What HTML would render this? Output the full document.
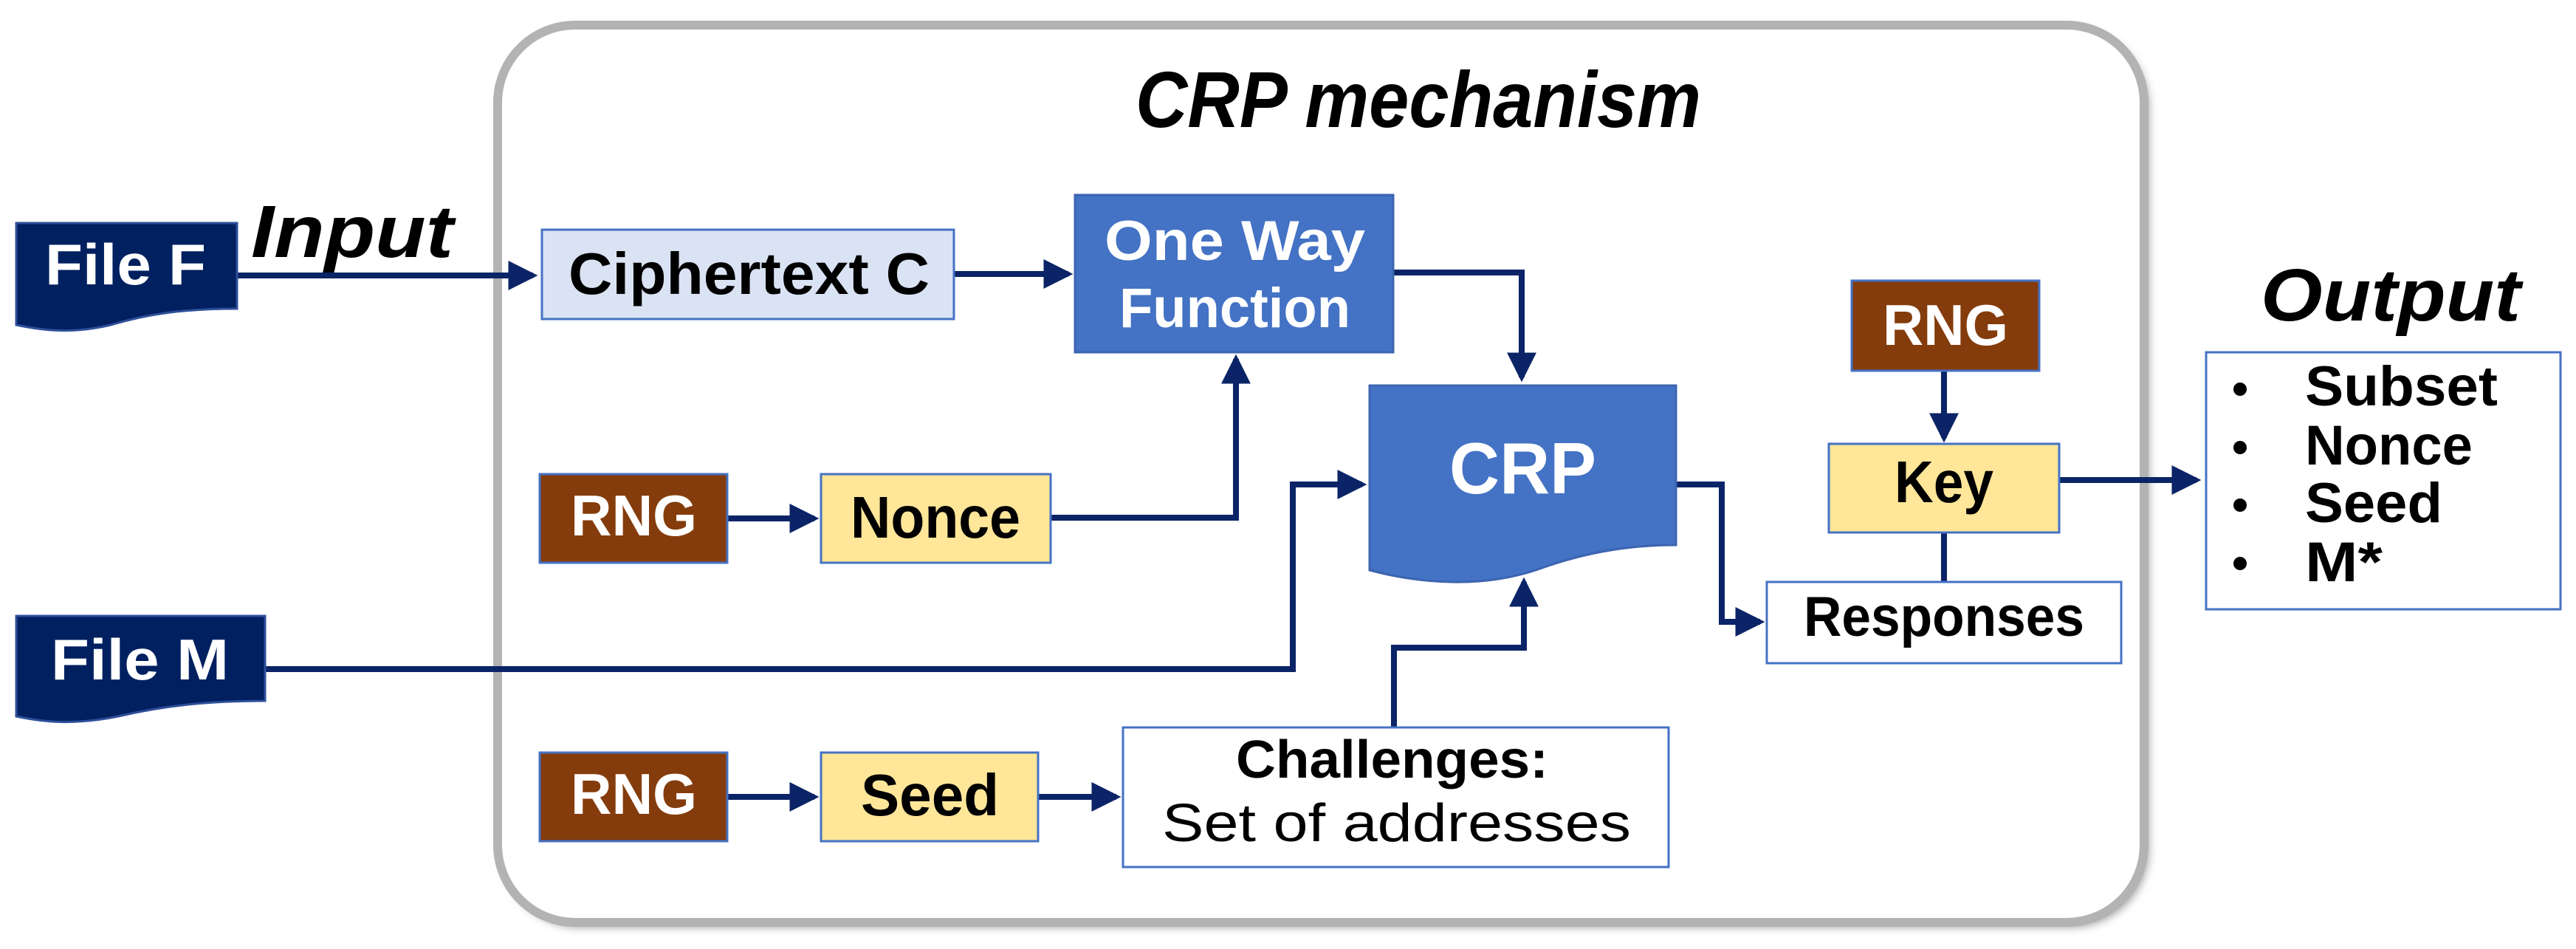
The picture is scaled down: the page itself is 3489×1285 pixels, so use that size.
<!DOCTYPE html>
<html><head><meta charset="utf-8"><style>
html,body{margin:0;padding:0;background:#fff;}
svg{display:block;}
text{font-family:"Liberation Sans",sans-serif;font-weight:bold;}
</style></head><body>
<svg width="3489" height="1285" viewBox="0 0 3489 1285" xmlns="http://www.w3.org/2000/svg">
<defs>
<filter id="sh" x="-5%" y="-5%" width="110%" height="110%"><feGaussianBlur stdDeviation="6"/></filter>
<marker id="ar" markerWidth="5" markerHeight="5" refX="4.2" refY="2.5" orient="auto" markerUnits="strokeWidth">
<path d="M0,0 L5,2.5 L0,5 z" fill="#0b2467"/></marker>
</defs>
<!-- container -->
<rect x="680" y="40" width="2230" height="1215" rx="105" fill="#9a9a9a" filter="url(#sh)"/>
<rect x="674" y="34" width="2230" height="1215" rx="105" fill="#fff" stroke="#b3b3b3" stroke-width="12"/>
<text x="1538" y="172" font-size="108" font-style="italic" textLength="766" lengthAdjust="spacingAndGlyphs" fill="#000">CRP mechanism</text>

<!-- connectors -->
<g fill="none" stroke="#0b2467" stroke-width="8">
<path d="M321 373 H722" marker-end="url(#ar)"/>
<path d="M1292 371 H1447" marker-end="url(#ar)"/>
<path d="M1887 369 H2061 V511" marker-end="url(#ar)"/>
<path d="M1423 701 H1674 V486" marker-end="url(#ar)"/>
<path d="M985 702 H1103" marker-end="url(#ar)"/>
<path d="M359 906 H1751 V656 H1845" marker-end="url(#ar)"/>
<path d="M985 1079 H1103" marker-end="url(#ar)"/>
<path d="M1406 1079 H1512" marker-end="url(#ar)"/>
<path d="M1888 985 V877 H2064 V788" marker-end="url(#ar)"/>
<path d="M2270 656 H2332 V842 H2384" marker-end="url(#ar)"/>
<path d="M2633 502 V593" marker-end="url(#ar)"/>
<path d="M2633 721 V788"/>
<path d="M2789 650 H2975" marker-end="url(#ar)"/>
</g>

<!-- File F -->
<path d="M22 302 H321 V418 C250 418 200 425 150 440 C100 452 60 448 22 440 Z" fill="#002060" stroke="#2f4f9a" stroke-width="3"/>
<text x="61" y="385" font-size="78" fill="#fff" textLength="218" lengthAdjust="spacingAndGlyphs">File F</text>
<text x="340" y="348" font-size="100" font-style="italic" fill="#000" textLength="274" lengthAdjust="spacingAndGlyphs">Input</text>

<!-- File M -->
<path d="M22 834 H359 V949 C280 949 220 956 160 970 C100 982 60 978 22 970 Z" fill="#002060" stroke="#2f4f9a" stroke-width="3"/>
<text x="69" y="920" font-size="78" fill="#fff" textLength="241" lengthAdjust="spacingAndGlyphs">File M</text>

<!-- Ciphertext -->
<rect x="734" y="311" width="558" height="121" fill="#dae3f3" stroke="#4472c4" stroke-width="3"/>
<text x="770" y="398" font-size="80" fill="#000" textLength="489" lengthAdjust="spacingAndGlyphs">Ciphertext C</text>

<!-- OWF -->
<rect x="1456" y="264" width="431" height="213" fill="#4472c4" stroke="#3c64b0" stroke-width="3"/>
<text x="1496" y="352" font-size="76" fill="#fff" textLength="353" lengthAdjust="spacingAndGlyphs">One Way</text>
<text x="1516" y="443" font-size="76" fill="#fff" textLength="313" lengthAdjust="spacingAndGlyphs">Function</text>

<!-- RNG1, Nonce -->
<rect x="731" y="642" width="254" height="120" fill="#843c0c" stroke="#4472c4" stroke-width="3"/>
<text x="773" y="725" font-size="78" fill="#fff" textLength="171" lengthAdjust="spacingAndGlyphs">RNG</text>
<rect x="1112" y="642" width="311" height="120" fill="#ffe699" stroke="#4472c4" stroke-width="3"/>
<text x="1152" y="728" font-size="80" fill="#000" textLength="230" lengthAdjust="spacingAndGlyphs">Nonce</text>

<!-- RNG2, Seed -->
<rect x="731" y="1019" width="254" height="120" fill="#843c0c" stroke="#4472c4" stroke-width="3"/>
<text x="773" y="1102" font-size="78" fill="#fff" textLength="171" lengthAdjust="spacingAndGlyphs">RNG</text>
<rect x="1112" y="1019" width="294" height="120" fill="#ffe699" stroke="#4472c4" stroke-width="3"/>
<text x="1166" y="1104" font-size="80" fill="#000" textLength="187" lengthAdjust="spacingAndGlyphs">Seed</text>

<!-- Challenges -->
<rect x="1521" y="985" width="739" height="189" fill="#fff" stroke="#4472c4" stroke-width="3"/>
<text x="1674" y="1053" font-size="72" fill="#000" textLength="423" lengthAdjust="spacingAndGlyphs">Challenges:</text>
<text x="1574" y="1139" font-size="72" font-weight="normal" style="font-weight:normal" fill="#000" textLength="635" lengthAdjust="spacingAndGlyphs">Set of addresses</text>

<!-- CRP -->
<path d="M1855 522 H2270 V738 C2200 738 2140 750 2080 772 C2010 795 1930 792 1855 772 Z" fill="#4472c4" stroke="#3c64b0" stroke-width="3"/>
<text x="1963" y="668" font-size="98" fill="#fff" textLength="199" lengthAdjust="spacingAndGlyphs">CRP</text>

<!-- RNG3, Key, Responses -->
<rect x="2508" y="380" width="254" height="122" fill="#843c0c" stroke="#4472c4" stroke-width="3"/>
<text x="2550" y="467" font-size="78" fill="#fff" textLength="170" lengthAdjust="spacingAndGlyphs">RNG</text>
<rect x="2477" y="601" width="312" height="120" fill="#ffe699" stroke="#4472c4" stroke-width="3"/>
<text x="2566" y="680" font-size="80" fill="#000" textLength="134" lengthAdjust="spacingAndGlyphs">Key</text>
<rect x="2393" y="788" width="480" height="110" fill="#fff" stroke="#4472c4" stroke-width="3"/>
<text x="2443" y="861" font-size="76" fill="#000" textLength="380" lengthAdjust="spacingAndGlyphs">Responses</text>

<!-- Output -->
<text x="3062" y="434" font-size="100" font-style="italic" fill="#000" textLength="352" lengthAdjust="spacingAndGlyphs">Output</text>
<rect x="2988" y="477" width="480" height="348" fill="#fff" stroke="#4472c4" stroke-width="3"/>
<g fill="#000">
<circle cx="3034" cy="527" r="9"/><circle cx="3034" cy="606" r="9"/><circle cx="3034" cy="684" r="9"/><circle cx="3034" cy="763" r="9"/>
</g>
<text x="3122" y="549" font-size="76" fill="#000" textLength="261" lengthAdjust="spacingAndGlyphs">Subset</text>
<text x="3122" y="629" font-size="76" fill="#000" textLength="227" lengthAdjust="spacingAndGlyphs">Nonce</text>
<text x="3122" y="707" font-size="76" fill="#000" textLength="186" lengthAdjust="spacingAndGlyphs">Seed</text>
<text x="3122" y="787" font-size="76" fill="#000" textLength="105" lengthAdjust="spacingAndGlyphs">M*</text>
</svg>
</body></html>
